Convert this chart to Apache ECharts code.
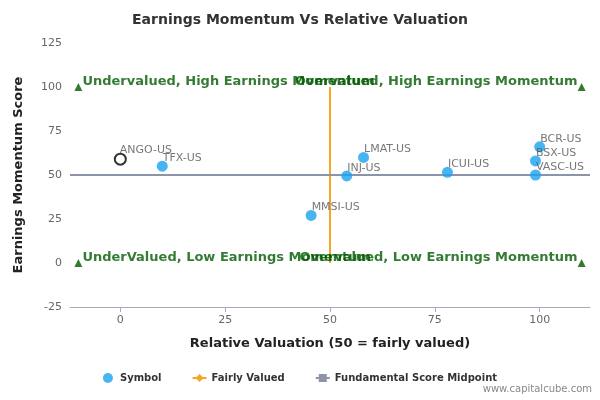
<!DOCTYPE html>
<html style="height: 100%">
<head><meta charset="utf-8"></head>
<body style="height: 100%; margin: 0">
<div id="container" style="width:600px;height:400px"></div>
<script src="https://cdn.jsdelivr.net/npm/echarts@6/dist/echarts.min.js"></script>
<script>
// symbol points: [valuation, momentum, name]
var symbols = [
    [10, 55, 'TFX-US'],
    [45.5, 27, 'MMSI-US'],
    [54, 49.5, 'INJ-US'],
    [58, 60, 'LMAT-US'],
    [78, 51.5, 'ICUI-US'],
    [99, 50, 'VASC-US'],
    [99, 58, 'BSX-US'],
    [100, 66, 'BCR-US']
];
var focus = [[0, 59, 'ANGO-US']];
var fairLine = [[50, 0], [50, 100]];
var midLine = [[-12, 50], [112, 50]];
var corners = [[-10, 100], [110, 100], [-10, 0], [110, 0]];
var quadrants = [
    [-10, 100, 'Undervalued, High Earnings Momentum', 'left'],
    [110, 100, 'Overvalued, High Earnings Momentum', 'right'],
    [-10, 0, 'UnderValued, Low Earnings Momentum', 'left'],
    [110, 0, 'Overvalued, Low Earnings Momentum', 'right']
];
var xTicks = [0, 25, 50, 75, 100];

var chart = echarts.init(document.getElementById('container'));
var green = '#005a00';
var font = 'DejaVu Sans';
var option = {
    animation: false,
    textStyle: {fontFamily: font},
    title: {text: 'Earnings Momentum Vs Relative Valuation', left: 'center', top: 8,
        textStyle: {fontSize: 14, fontWeight: 'bold', color: '#333', fontFamily: font}},
    grid: {left: 70, right: 10, top: 43, bottom: 93},
    xAxis: {type: 'value', min: -12, max: 112,
        name: 'Relative Valuation (50 = fairly valued)', nameLocation: 'middle', nameGap: 30,
        nameTextStyle: {fontWeight: 'bold', fontSize: 13, color: '#222'},
        axisLine: {onZero: false, lineStyle: {color: '#aab'}},
        axisTick: {customValues: xTicks, lineStyle: {color: '#aab'}},
        axisLabel: {customValues: xTicks, color: '#666', fontSize: 11},
        splitLine: {show: false}},
    yAxis: {type: 'value', min: -25, max: 125, interval: 25,
        name: 'Earnings Momentum Score', nameLocation: 'middle', nameGap: 45,
        nameTextStyle: {fontWeight: 'bold', fontSize: 13, color: '#222'},
        axisLine: {show: false}, axisTick: {show: false},
        axisLabel: {color: '#666', fontSize: 11},
        splitLine: {show: false}},
    legend: {bottom: 12, itemGap: 30, itemWidth: 14, itemHeight: 10,
        textStyle: {fontSize: 10, fontWeight: 'bold', color: '#333'},
        data: [{name: 'Symbol', icon: 'circle'}, 'Fairly Valued', 'Fundamental Score Midpoint']},
    graphic: [{type: 'text', right: 8, bottom: 6,
        style: {text: 'www.capitalcube.com', fontSize: 10, fill: '#888', fontFamily: font}}],
    series: [
        {name: 'Fairly Valued', type: 'line', data: fairLine, symbol: 'diamond', showSymbol: false,
            itemStyle: {color: '#f5a623'}, lineStyle: {color: '#f5a623', width: 2}, z: 1},
        {name: 'Fundamental Score Midpoint', type: 'line', data: midLine, symbol: 'rect', showSymbol: false,
            itemStyle: {color: '#8d93a8'}, lineStyle: {color: '#8d93a8', width: 2}, z: 1},
        {name: 'Symbol', type: 'scatter', data: symbols, symbolSize: 11,
            itemStyle: {color: '#1aa3f0'}, z: 3,
            label: {show: true, formatter: function (p) { return p.data[2]; },
                position: [6, -8], color: '#555', fontSize: 11}},
        {name: 'focus', type: 'scatter', data: focus, symbolSize: 11,
            itemStyle: {color: '#fff', borderColor: '#000', borderWidth: 2}, z: 3,
            label: {show: true, formatter: function (p) { return p.data[2]; },
                position: [6, -8], color: '#555', fontSize: 11}},
        {name: 'corners', type: 'scatter', data: corners, symbol: 'triangle', symbolSize: 8,
            itemStyle: {color: green}, z: 2},
        {name: 'quadrants', type: 'scatter', symbolSize: 0, z: 4,
            data: quadrants.map(function (q) {
                return {value: [q[0], q[1]], label: {show: true, formatter: q[2],
                    position: q[3] === 'left' ? [4, -12] : [-4, -12],
                    align: q[3], color: green, fontWeight: 'bold', fontSize: 13}};
            })}
    ]
};
chart.setOption(option);
</script>
</body>
</html>
